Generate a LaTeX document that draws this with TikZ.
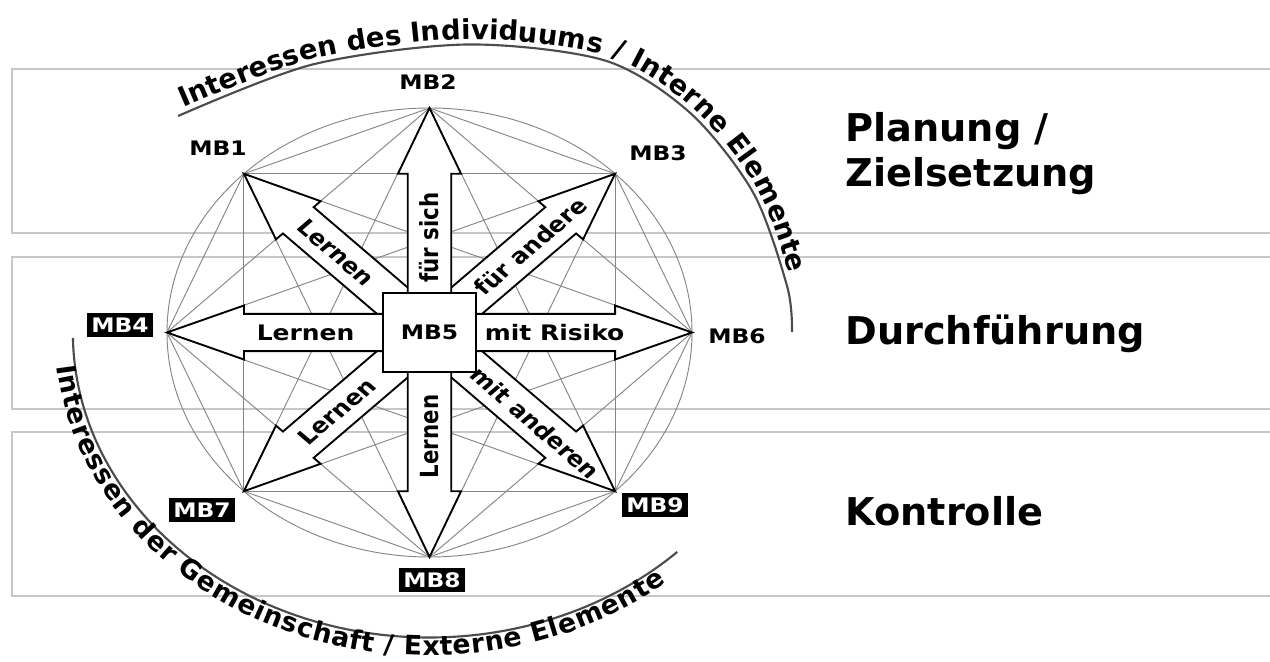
\documentclass[tikz,border=0pt]{standalone}
\usepackage{fontspec}
\setmainfont{DejaVu Sans}
\usetikzlibrary{decorations.text}

\begin{document}
\begin{tikzpicture}[
    x=0.75pt, y=0.75pt,
    band/.style={draw=black!22, line width=1.3pt},
    chord/.style={draw=black!48, line width=0.7pt},
    blockarrow/.style={draw=black, fill=white, line width=1.4pt, line join=miter},
    hub/.style={rectangle, draw=black, fill=white, line width=1.4pt, minimum width=60pt, minimum height=59pt, font=\bfseries\fontsize{15}{17}\selectfont},
    arrowtext/.style={font=\bfseries\fontsize{16}{18}\selectfont, inner sep=0pt},
    mblabel/.style={font=\bfseries\fontsize{15}{17}\selectfont, inner sep=0pt},
    mbdark/.style={fill=black, text=white, font=\bfseries\fontsize{15}{17}\selectfont, inner xsep=2.9pt, inner ysep=0pt, minimum height=18pt},
    phase/.style={font=\bfseries\fontsize{28.7}{32}\selectfont, anchor=base west, inner sep=0pt},
    arcline/.style={draw=black!70, line width=1.6pt}
]

\useasboundingbox (0,0) rectangle (1270,661);

% Phase bands
\draw[band] (12,592) rectangle (1285,428);
\draw[band] (12,404) rectangle (1285,252);
\draw[band] (12,229) rectangle (1285,65);

% Phase labels
\node[phase] (plan) at (845,519) {Planung /};
\node[phase] (ziel) at (845,474) {Zielsetzung};
\node[phase] (durch) at (845,316) {Durchführung};
\node[phase] (kontr) at (845,136) {Kontrolle};

% Star of MB1..MB9
\begin{scope}[shift={(429.5,328.5)}, xscale=1.1693, transform shape]

\foreach \k in {0,...,7} \coordinate (v\k) at (\k*45:224.5);

% thin chords between all outer points
\draw[chord] (0,0) circle[radius=224.5];
\foreach \i in {0,...,6} {
    \pgfmathtruncatemacro\nexti{\i+1}
    \foreach \j in {\nexti,...,7} \draw[chord] (v\i) -- (v\j);
}

% block arrows, diagonals first
\foreach \a in {45,135,225,315}
    \draw[blockarrow, rotate=\a] (0,-18.6) -- (158.7,-18.6) -- (158.7,-27) -- (224.5,0) -- (158.7,27) -- (158.7,18.6) -- (0,18.6) -- cycle;
\foreach \a in {0,90,180,270}
    \draw[blockarrow, rotate=\a] (0,-18.6) -- (158.7,-18.6) -- (158.7,-27) -- (224.5,0) -- (158.7,27) -- (158.7,18.6) -- (0,18.6) -- cycle;

\node[hub] (mb5) at (0,0) {MB5};

% arrow texts
\node[arrowtext, rotate=90] (t2) at (0,95) {für sich};
\node[arrowtext, rotate=-45] (t1) at (135:113) {Lernen};
\node[arrowtext, rotate=45] (t3) at (45:122) {für andere};
\node[arrowtext] (t4) at (-106,0) {Lernen};
\node[arrowtext] (t6) at (107,0) {mit Risiko};
\node[arrowtext, rotate=45] (t7) at (225:112) {Lernen};
\node[arrowtext, rotate=90] (t8) at (0,-104) {Lernen};
\node[arrowtext, rotate=-45] (t9) at (315:128) {mit anderen};

% point labels
\node[mblabel] (mb1) at (-180.9,184.5) {MB1};
\node[mblabel] (mb2) at (-1.3,250.5) {MB2};
\node[mblabel] (mb3) at (195.4,179.5) {MB3};
\node[mblabel] (mb6) at (263,-3.5) {MB6};
\node[mbdark] (mb4) at (-264.7,7.5) {MB4};
\node[mbdark] (mb7) at (-194.6,-177.5) {MB7};
\node[mbdark] (mb8) at (2.1,-247.5) {MB8};
\node[mbdark] (mb9) at (192.9,-172.5) {MB9};

% outer arcs with text
\draw[arcline, postaction={decorate, decoration={text along path, text align={left, left indent=6pt}, raise=4pt,
    text={|\bfseries\fontsize{20.5}{21}\selectfont|Interessen des Individuums / Interne Elemente}}}]
    plot[smooth] coordinates {(-215,216.5) (-100,268) (32,288) (150,272) (223,219.5) (277,139.5) (306,45.5) (310,0.5)};
\draw[arcline, postaction={decorate, decoration={text along path, text align=center, raise=-13.5pt,
    text={|\bfseries\fontsize{20}{21}\selectfont|Interessen der Gemeinschaft / Externe Elemente}}}]
    (181:305) arc[start angle=181, end angle=314, radius=305];

\end{scope}

\end{tikzpicture}
\end{document}
